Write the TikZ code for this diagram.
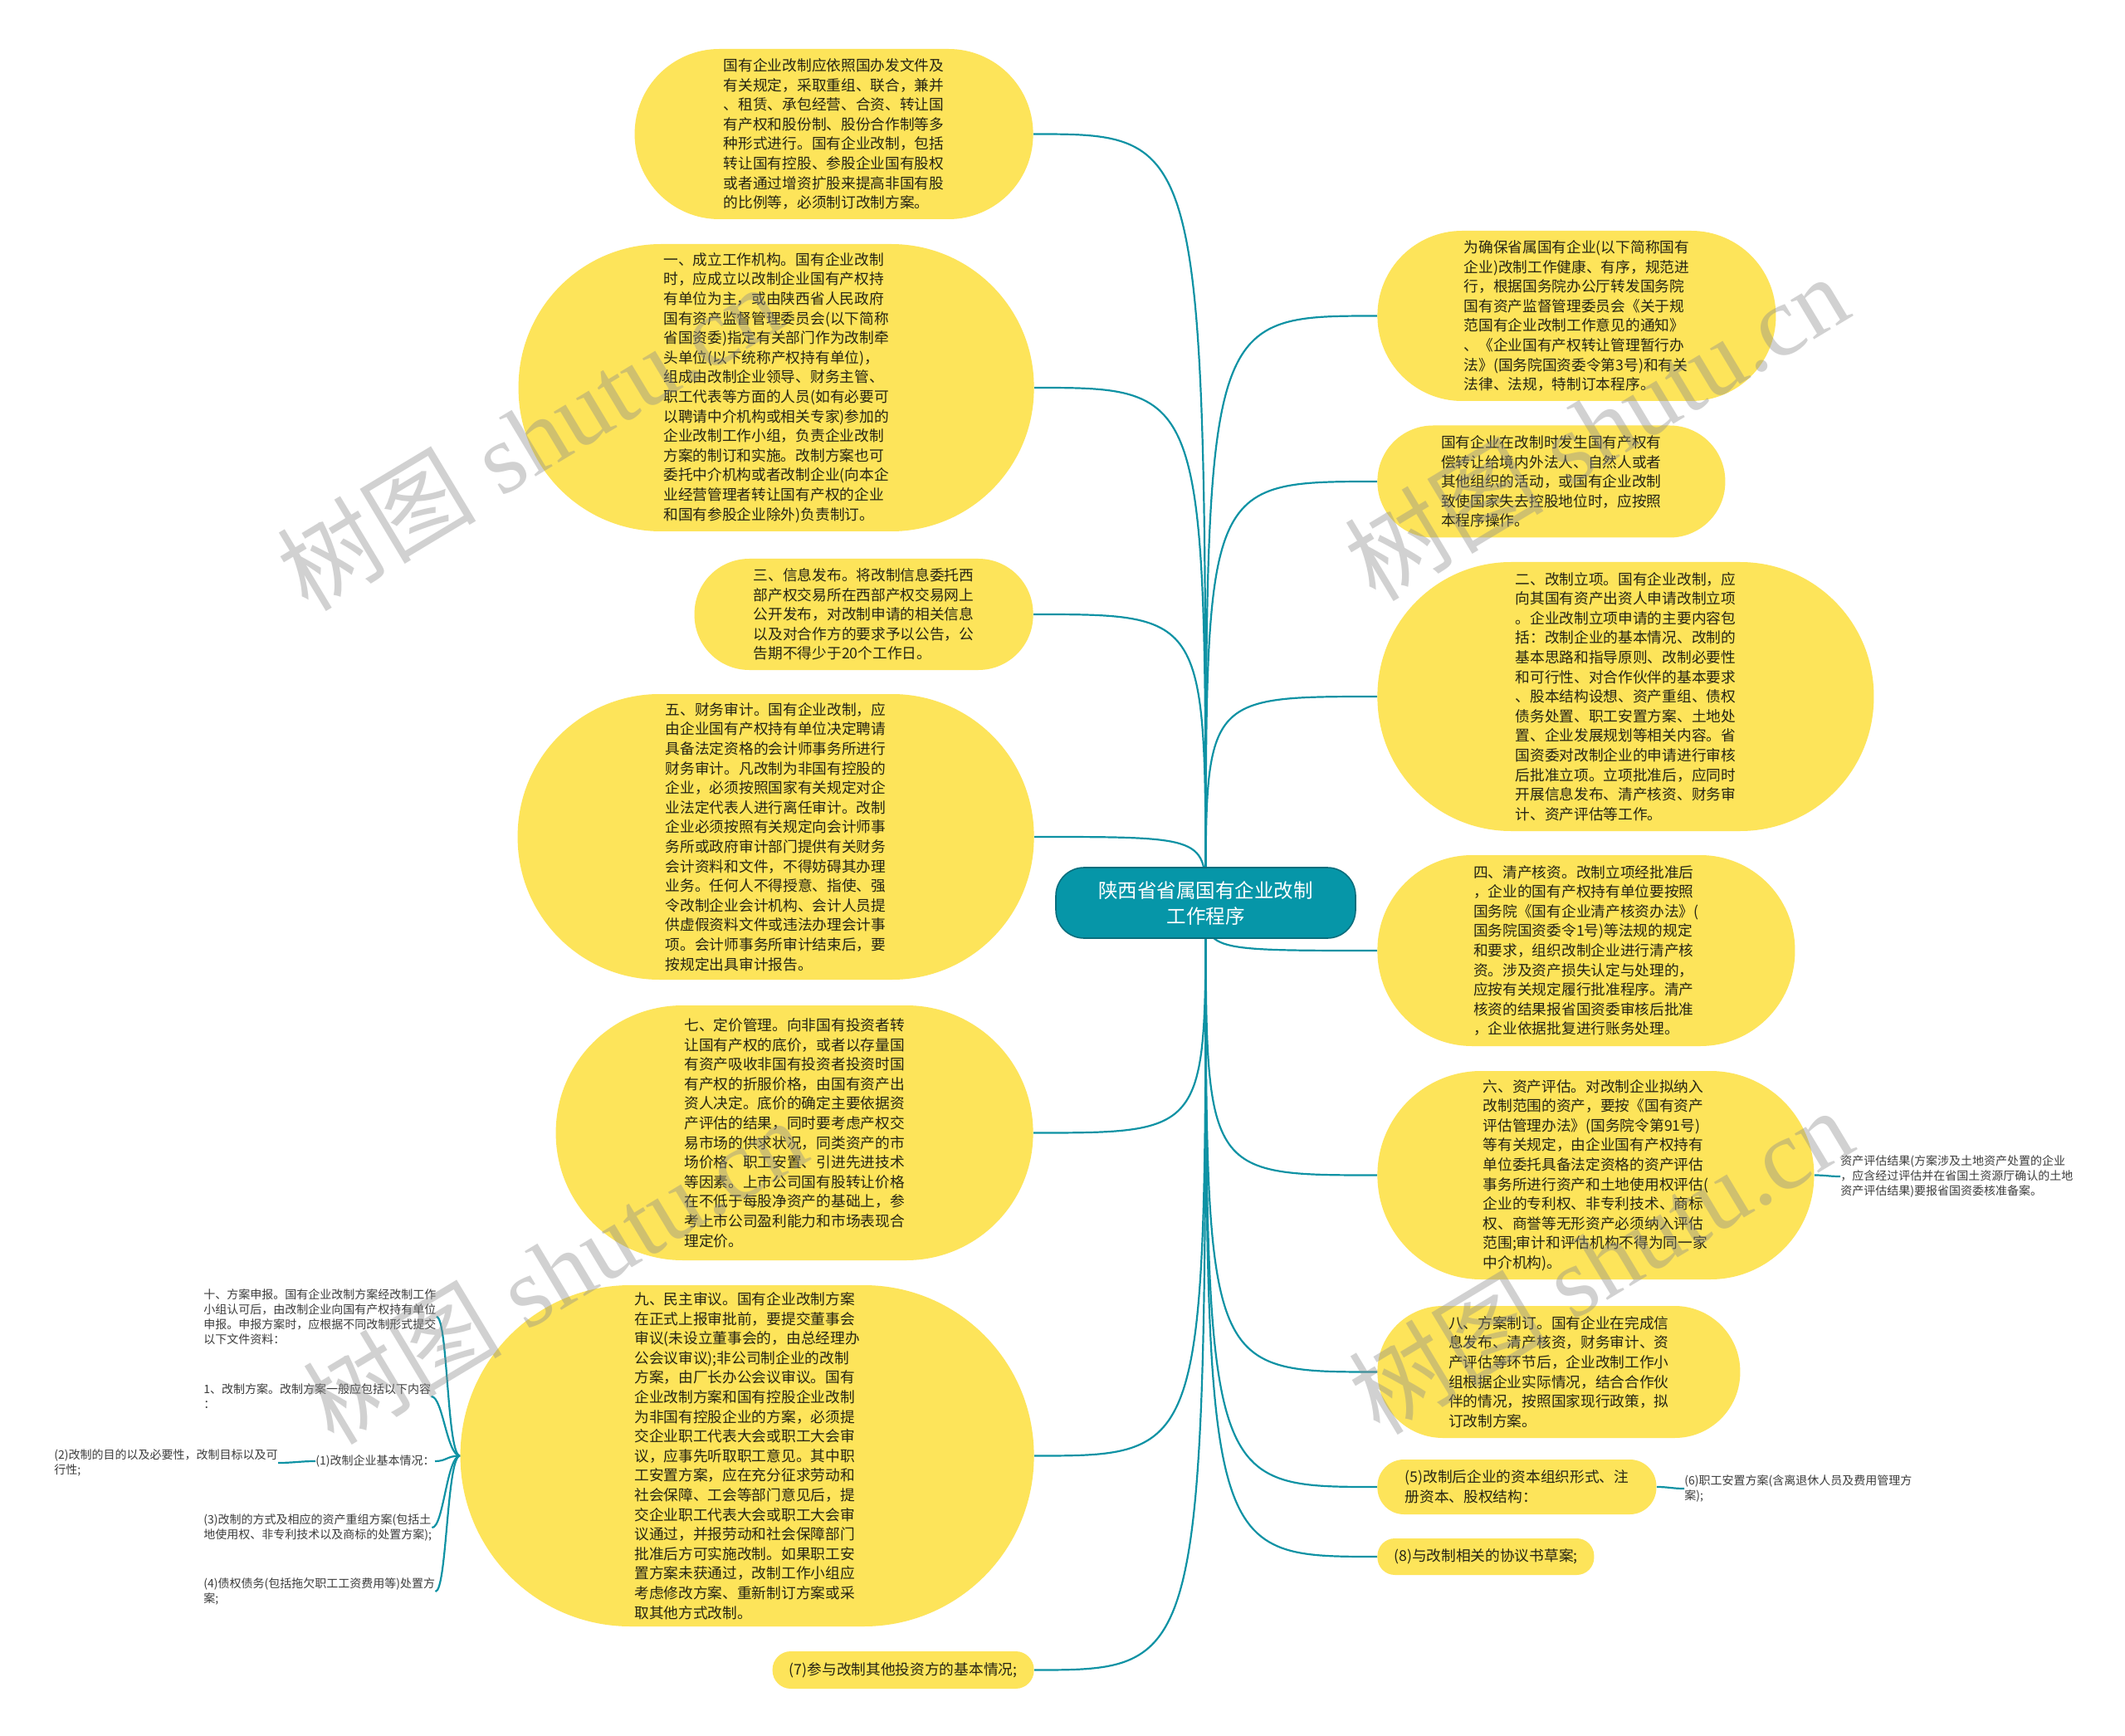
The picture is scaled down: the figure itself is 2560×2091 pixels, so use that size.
\documentclass[tikz,border=0pt]{standalone}
\usepackage{fontspec}
\newfontfamily\cjk{Noto Sans CJK SC}
\newfontfamily\wmserif{Liberation Serif}
\usetikzlibrary{calc}
\definecolor{ny}{RGB}{253,228,90}
\definecolor{tl}{RGB}{14,146,164}
\definecolor{ctrc}{RGB}{6,150,168}
\definecolor{ctrb}{RGB}{10,110,125}
\definecolor{tx}{RGB}{38,36,20}
\definecolor{tx2}{RGB}{60,60,60}
\definecolor{wm}{RGB}{140,140,140}
\pgfdeclarelayer{bg}
\pgfsetlayers{bg,main}
\tikzset{
  ybox/.style={fill=ny, inner sep=0pt, align=left, text=tx, font=\cjk\fontsize{8.85pt}{11.8pt}\selectfont},
  lbox/.style={ybox, anchor=east},
  rbox/.style={ybox, anchor=west},
  leaf/.style={inner sep=0pt, align=left, text=tx2, anchor=west, font=\cjk\fontsize{7pt}{9pt}\selectfont},
  conn/.style={draw=tl, line width=1.1pt},
  ctrbox/.style={fill=ctrc, draw=ctrb, line width=0.8pt, rounded corners=17pt, align=center, text=white, inner sep=0pt, font=\cjk\fontsize{11.75pt}{15.5pt}\selectfont},
  wmark/.style={text=wm, text opacity=0.4, rotate=31, inner sep=0pt, font=\wmserif\fontsize{60pt}{60pt}\selectfont}
}
\begin{document}
\begin{tikzpicture}[x=0.5pt,y=-0.5pt]
\useasboundingbox (0,0) rectangle (2560,2091);

% center
\node[ctrbox, minimum width=180.5pt, minimum height=42.5pt] (ctr) at (1452.5,1087.5) {陕西省省属国有企业改制\\工作程序};

% left main nodes
\node[lbox, minimum width=240pt, minimum height=102.5pt, rounded corners=51pt] (A) at (1245,161.5) {国有企业改制应依照国办发文件及\\有关规定，采取重组、联合，兼并\\、租赁、承包经营、合资、转让国\\有产权和股份制、股份合作制等多\\种形式进行。国有企业改制，包括\\转让国有控股、参股企业国有股权\\或者通过增资扩股来提高非国有股\\的比例等，必须制订改制方案。};

\node[lbox, minimum width=310.5pt, minimum height=173pt, rounded corners=86pt] (B) at (1246,467) {一、成立工作机构。国有企业改制\\时，应成立以改制企业国有产权持\\有单位为主，或由陕西省人民政府\\国有资产监督管理委员会(以下简称\\省国资委)指定有关部门作为改制牵\\头单位(以下统称产权持有单位)，\\组成由改制企业领导、财务主管、\\职工代表等方面的人员(如有必要可\\以聘请中介机构或相关专家)参加的\\企业改制工作小组，负责企业改制\\方案的制订和实施。改制方案也可\\委托中介机构或者改制企业(向本企\\业经营管理者转让国有产权的企业\\和国有参股企业除外)负责制订。};

\node[lbox, minimum width=204pt, minimum height=67pt, rounded corners=33pt] (C) at (1245,740) {三、信息发布。将改制信息委托西\\部产权交易所在西部产权交易网上\\公开发布，对改制申请的相关信息\\以及对合作方的要求予以公告，公\\告期不得少于20个工作日。};

\node[lbox, minimum width=311pt, minimum height=172pt, rounded corners=85.5pt] (D) at (1246,1008) {五、财务审计。国有企业改制，应\\由企业国有产权持有单位决定聘请\\具备法定资格的会计师事务所进行\\财务审计。凡改制为非国有控股的\\企业，必须按照国家有关规定对企\\业法定代表人进行离任审计。改制\\企业必须按照有关规定向会计师事\\务所或政府审计部门提供有关财务\\会计资料和文件，不得妨碍其办理\\业务。任何人不得授意、指使、强\\令改制企业会计机构、会计人员提\\供虚假资料文件或违法办理会计事\\项。会计师事务所审计结束后，要\\按规定出具审计报告。};

\node[lbox, minimum width=287.5pt, minimum height=153.5pt, rounded corners=76.5pt] (E) at (1245,1364.5) {七、定价管理。向非国有投资者转\\让国有产权的底价，或者以存量国\\有资产吸收非国有投资者投资时国\\有产权的折服价格，由国有资产出\\资人决定。底价的确定主要依据资\\产评估的结果，同时要考虑产权交\\易市场的供求状况，同类资产的市\\场价格、职工安置、引进先进技术\\等因素。上市公司国有股转让价格\\在不低于每股净资产的基础上，参\\考上市公司盈利能力和市场表现合\\理定价。};

\node[lbox, minimum width=345.5pt, minimum height=205.5pt, rounded corners=102.5pt] (F) at (1246,1753.5) {九、民主审议。国有企业改制方案\\在正式上报审批前，要提交董事会\\审议(未设立董事会的，由总经理办\\公会议审议);非公司制企业的改制\\方案，由厂长办公会议审议。国有\\企业改制方案和国有控股企业改制\\为非国有控股企业的方案，必须提\\交企业职工代表大会或职工大会审\\议，应事先听取职工意见。其中职\\工安置方案，应在充分征求劳动和\\社会保障、工会等部门意见后，提\\交企业职工代表大会或职工大会审\\议通过，并报劳动和社会保障部门\\批准后方可实施改制。如果职工安\\置方案未获通过，改制工作小组应\\考虑修改方案、重新制订方案或采\\取其他方式改制。};

\node[lbox, minimum width=157.5pt, minimum height=22.5pt, rounded corners=11pt] (G) at (1246,2011.5) {(7)参与改制其他投资方的基本情况;};

% right main nodes
\node[rbox, minimum width=240pt, minimum height=102.5pt, rounded corners=51pt] (H) at (1659,380.5) {为确保省属国有企业(以下简称国有\\企业)改制工作健康、有序，规范进\\行，根据国务院办公厅转发国务院\\国有资产监督管理委员会《关于规\\范国有企业改制工作意见的通知》\\、《企业国有产权转让管理暂行办\\法》(国务院国资委令第3号)和有关\\法律、法规，特制订本程序。};

\node[rbox, minimum width=209.5pt, minimum height=67.5pt, rounded corners=33.5pt] (I) at (1659,580) {国有企业在改制时发生国有产权有\\偿转让给境内外法人、自然人或者\\其他组织的活动，或国有企业改制\\致使国家失去控股地位时，应按照\\本程序操作。};

\node[rbox, minimum width=299pt, minimum height=162pt, rounded corners=80.5pt] (J) at (1659,839) {二、改制立项。国有企业改制，应\\向其国有资产出资人申请改制立项\\。企业改制立项申请的主要内容包\\括：改制企业的基本情况、改制的\\基本思路和指导原则、改制必要性\\和可行性、对合作伙伴的基本要求\\、股本结构设想、资产重组、债权\\债务处置、职工安置方案、土地处\\置、企业发展规划等相关内容。省\\国资委对改制企业的申请进行审核\\后批准立项。立项批准后，应同时\\开展信息发布、清产核资、财务审\\计、资产评估等工作。};

\node[rbox, minimum width=251.5pt, minimum height=115pt, rounded corners=57pt] (K) at (1659,1145) {四、清产核资。改制立项经批准后\\，企业的国有产权持有单位要按照\\国务院《国有企业清产核资办法》(\\国务院国资委令1号)等法规的规定\\和要求，组织改制企业进行清产核\\资。涉及资产损失认定与处理的，\\应按有关规定履行批准程序。清产\\核资的结果报省国资委审核后批准\\，企业依据批复进行账务处理。};

\node[rbox, minimum width=263pt, minimum height=125.5pt, rounded corners=62.5pt] (L) at (1659,1415.5) {六、资产评估。对改制企业拟纳入\\改制范围的资产，要按《国有资产\\评估管理办法》(国务院令第91号)\\等有关规定，由企业国有产权持有\\单位委托具备法定资格的资产评估\\事务所进行资产和土地使用权评估(\\企业的专利权、非专利技术、商标\\权、商誉等无形资产必须纳入评估\\范围;审计和评估机构不得为同一家\\中介机构)。};

\node[rbox, minimum width=218.5pt, minimum height=79.5pt, rounded corners=39.5pt] (M) at (1659,1652.5) {八、方案制订。国有企业在完成信\\息发布、清产核资，财务审计、资\\产评估等环节后，企业改制工作小\\组根据企业实际情况，结合合作伙\\伴的情况，按照国家现行政策，拟\\订改制方案。};

\node[rbox, minimum width=168pt, minimum height=33pt, rounded corners=16pt] (N) at (1659,1791) {(5)改制后企业的资本组织形式、注\\册资本、股权结构：};

\node[rbox, minimum width=130.5pt, minimum height=22pt, rounded corners=10.5pt] (O) at (1659,1875) {(8)与改制相关的协议书草案;};

% leaves
\node[leaf] (P) at (2217,1417) {资产评估结果(方案涉及土地资产处置的企业\\，应含经过评估并在省国土资源厅确认的土地\\资产评估结果)要报省国资委核准备案。};
\node[leaf] (Q) at (2029,1793) {(6)职工安置方案(含离退休人员及费用管理方\\案);};

\node[leaf] (R) at (245,1586) {十、方案申报。国有企业改制方案经改制工作\\小组认可后，由改制企业向国有产权持有单位\\申报。申报方案时，应根据不同改制形式提交\\以下文件资料：};
\node[leaf] (S) at (245,1682) {1、改制方案。改制方案一般应包括以下内容\\：};
\node[leaf] (T) at (380,1760) {(1)改制企业基本情况：};
\node[leaf] (U) at (65,1762) {(2)改制的目的以及必要性，改制目标以及可\\行性;};
\node[leaf] (V) at (245,1840) {(3)改制的方式及相应的资产重组方案(包括土\\地使用权、非专利技术以及商标的处置方案);};
\node[leaf] (W) at (245,1917) {(4)债权债务(包括拖欠职工工资费用等)处置方\\案;};

% connectors (under the nodes)
\begin{pgfonlayer}{bg}
\fill[white] (0,0) rectangle (2560,2091);
\foreach \n in {A,B,C,D,E,F,G}
  \draw[conn] (ctr.center) .. controls (ctr.center |- \n.east) .. (\n.east);
\foreach \n in {H,I,J,K,L,M,N,O}
  \draw[conn] (ctr.center) .. controls (ctr.center |- \n.west) .. (\n.west);
\foreach \n in {R,S,T,V,W}
  \draw[conn] (F.west) .. controls +(-16,0) and +(14,0) .. (\n.east);
\draw[conn] (T.west) .. controls +(-18,0) and +(18,0) .. (U.east);
\draw[conn] (L.east) .. controls +(14,0) and +(-14,0) .. (P.west);
\draw[conn] (N.east) .. controls +(14,0) and +(-14,0) .. (Q.west);
\end{pgfonlayer}

% watermarks
\node[wmark] (w1) at (637,526) {{\cjk 树图} shutu.cn};
\node[wmark] (w2) at (1923,514) {{\cjk 树图} shutu.cn};
\node[wmark] (w3) at (668,1530) {{\cjk 树图} shutu.cn};
\node[wmark] (w4) at (1928,1518) {{\cjk 树图} shutu.cn};
\end{tikzpicture}
\end{document}
